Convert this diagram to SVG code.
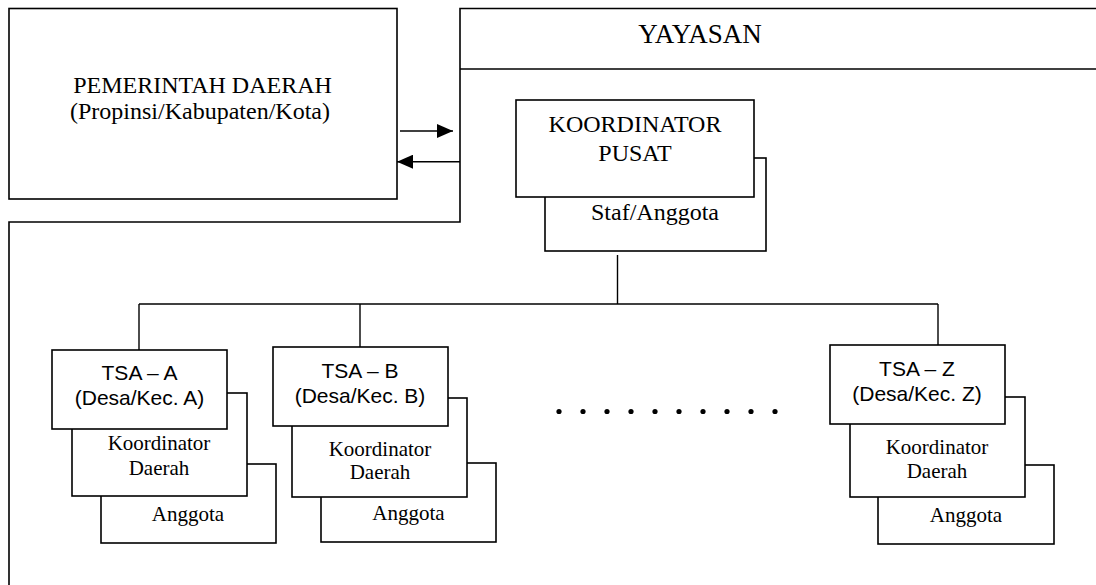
<svg xmlns="http://www.w3.org/2000/svg" width="1096" height="585" viewBox="0 0 1096 585">
<style>
.box{fill:#fff;stroke:#000;stroke-width:1.6}
.ln{fill:none;stroke:#000;stroke-width:1.6}
.cn{fill:none;stroke:#000;stroke-width:1.4}
.serif{font-family:"Liberation Serif","Times New Roman",serif;fill:#000;text-anchor:middle}
.sans{font-family:"Liberation Sans",Arial,sans-serif;fill:#000;text-anchor:middle;font-size:21px}
.big{font-size:24px}
.sm{font-size:21px}
</style>
<defs>
<marker id="ah" markerUnits="userSpaceOnUse" markerWidth="16" markerHeight="14" refX="16" refY="7" orient="auto">
<path d="M0,0 L16,7 L0,14 z" fill="#000"/>
</marker>
</defs>
<rect width="1096" height="585" fill="#fff"/>

<g id="pemerintah">
<rect class="box" x="9" y="8.5" width="388" height="190.5"/>
<text class="serif big" x="202.5" y="93">PEMERINTAH DAERAH</text>
<text class="serif big" x="200" y="119">(Propinsi/Kabupaten/Kota)</text>
</g>

<g id="yayasan">
<path class="ln" d="M1096,8.5 H460 V222 H9 V585"/>
<path class="ln" d="M460,69 H1096"/>
<text class="serif" font-size="27" x="700" y="43">YAYASAN</text>
</g>

<g id="koordinator-pusat">
<rect class="box" x="545" y="158" width="221" height="93"/>
<rect class="box" x="516" y="100" width="238" height="97"/>
<text class="serif big" x="635" y="132">KOORDINATOR</text>
<text class="serif big" x="635" y="161">PUSAT</text>
<text class="serif big" x="655" y="220">Staf/Anggota</text>
</g>

<g id="tsa-a">
<rect class="box" x="101" y="464" width="175" height="79"/>
<rect class="box" x="72" y="393" width="175" height="103"/>
<rect class="box" x="52" y="350" width="175" height="79"/>
<text class="sans" x="139.5" y="380">TSA – A</text>
<text class="sans" x="139.5" y="405">(Desa/Kec. A)</text>
<text class="serif sm" x="159" y="450">Koordinator</text>
<text class="serif sm" x="159" y="475">Daerah</text>
<text class="serif sm" x="188" y="521">Anggota</text>
</g>

<g id="tsa-b">
<rect class="box" x="321" y="463" width="175" height="79"/>
<rect class="box" x="292" y="398" width="175" height="99"/>
<rect class="box" x="273" y="347" width="175" height="79"/>
<text class="sans" x="360" y="378">TSA – B</text>
<text class="sans" x="360" y="403">(Desa/Kec. B)</text>
<text class="serif sm" x="380" y="456">Koordinator</text>
<text class="serif sm" x="380" y="479">Daerah</text>
<text class="serif sm" x="408.5" y="520">Anggota</text>
</g>

<g id="tsa-z">
<rect class="box" x="878" y="465" width="176" height="79"/>
<rect class="box" x="850" y="397" width="175" height="100"/>
<rect class="box" x="830" y="345" width="175" height="79"/>
<text class="sans" x="917" y="376">TSA – Z</text>
<text class="sans" x="917" y="401">(Desa/Kec. Z)</text>
<text class="serif sm" x="937" y="454">Koordinator</text>
<text class="serif sm" x="937" y="478">Daerah</text>
<text class="serif sm" x="966" y="522">Anggota</text>
</g>

<g id="ellipsis" fill="#000">
<circle cx="559" cy="411.5" r="2.6"/>
<circle cx="583" cy="411.5" r="2.6"/>
<circle cx="607" cy="411.5" r="2.6"/>
<circle cx="631" cy="411.5" r="2.6"/>
<circle cx="655" cy="411.5" r="2.6"/>
<circle cx="679" cy="411.5" r="2.6"/>
<circle cx="703" cy="411.5" r="2.6"/>
<circle cx="727" cy="411.5" r="2.6"/>
<circle cx="751" cy="411.5" r="2.6"/>
<circle cx="775" cy="411.5" r="2.6"/>
</g>

<g id="connectors">
<path class="cn" d="M400,131 H453" marker-end="url(#ah)"/>
<path class="cn" d="M460,161.7 H397" marker-end="url(#ah)"/>
<path class="cn" d="M617.5,255 V304"/>
<path class="cn" d="M139,304 H938"/>
<path class="cn" d="M139,304 V350"/>
<path class="cn" d="M360,304 V347"/>
<path class="cn" d="M938,304 V345"/>
</g>
</svg>
